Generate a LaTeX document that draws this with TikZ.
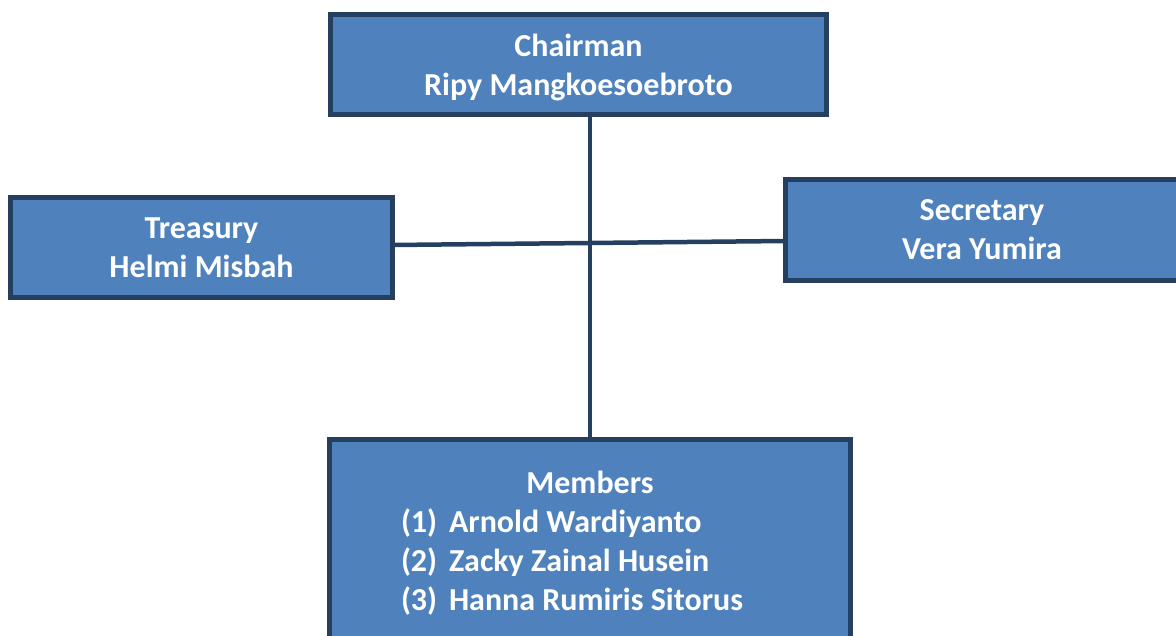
\documentclass[tikz,border=0pt]{standalone}
\usepackage{fontspec}
\setmainfont{Carlito}
\usepackage{xcolor}
\usepackage{tikz}
\usetikzlibrary{positioning}
\definecolor{boxblue}{HTML}{4F81BD}
\definecolor{boxline}{HTML}{243F60}
\newcommand{\memberline}[2]{\makebox[378pt][l]{\makebox[48pt][l]{(#1)}#2}}

\begin{document}
\begin{tikzpicture}[
    x = 1pt, y = 1pt, align = center,
    post/.style = {rectangle, draw = boxline, fill = boxblue, line width = 5pt, inner sep = 0pt, outer sep = 0pt, text = white, font = \bfseries\fontsize{32}{39}\selectfont, minimum height = 100pt},
    link/.style = {draw = boxline, line width = 4.5pt},
    ]
    \useasboundingbox (0,0) rectangle (1176,-636);

    % draw the board
    \node [post, minimum width = 496pt, text depth = 0pt] (chairman) at (578.5,-64.5) {Chairman\\Ripy Mangkoesoebroto};
    \node [post, minimum width = 382pt] (treasury) at (201.5,-247.5) {Treasury\\Helmi Misbah};
    \node [post, minimum width = 393pt, minimum height = 101pt] (secretary) at (982,-230) {Secretary\\Vera Yumira};
    \node [post, minimum width = 521pt, minimum height = 207pt, anchor = north] (members) [below = 325pt of chairman, xshift = 11.5pt]
        {Members\\\memberline{1}{Arnold Wardiyanto}\\\memberline{2}{Zacky Zainal Husein}\\\memberline{3}{Hanna Rumiris Sitorus}};

    % draw the links
    \draw [link] (members.north |- chairman.south) -- (members.north);
    \draw [link] ([yshift = 2.5pt]treasury.east) -- ([yshift = -11pt]secretary.west);
\end{tikzpicture}
\end{document}
